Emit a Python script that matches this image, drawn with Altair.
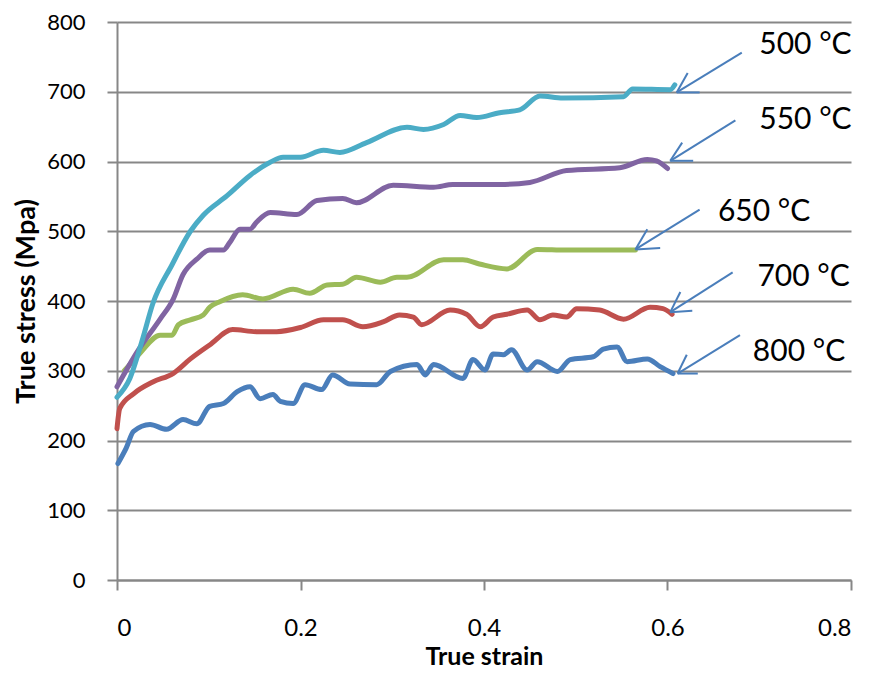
import altair as alt
import pandas as pd

# ---- data ----
s500_strain = [0, 0.014, 0.028, 0.039, 0.06, 0.08, 0.094, 0.12, 0.145, 0.167, 0.181, 0.2, 0.225, 0.243,
               0.272, 0.316, 0.334, 0.356, 0.374, 0.392, 0.417, 0.439, 0.461, 0.486, 0.552, 0.562, 0.603, 0.608]
s500_stress = [262, 289, 346, 396, 452, 500, 523, 551, 580, 599, 606, 606, 616, 613,
               627, 649, 646, 653, 666, 663, 670, 674, 694, 691, 693, 704, 703, 710]

s550_strain = [0, 0.022, 0.047, 0.061, 0.072, 0.087, 0.101, 0.116, 0.123, 0.134, 0.145, 0.152, 0.167, 0.196,
               0.218, 0.246, 0.261, 0.301, 0.345, 0.366, 0.417, 0.45, 0.49, 0.548, 0.578, 0.588, 0.6]
s550_stress = [277, 327, 374, 402, 438, 460, 473, 473, 484, 503, 503, 513, 527, 524,
               544, 547, 541, 566, 563, 567, 567, 570, 587, 591, 603, 601, 590]

s650_strain = [0.008, 0.016, 0.025, 0.047, 0.06, 0.067, 0.08, 0.094, 0.101, 0.112, 0.137, 0.159, 0.192, 0.21,
               0.229, 0.246, 0.261, 0.287, 0.305, 0.316, 0.356, 0.377, 0.395, 0.425, 0.458, 0.49, 0.565]
s650_stress = [300, 312, 325, 351, 351, 366, 373, 380, 391, 399, 409, 403, 417, 411,
               423, 424, 434, 427, 434, 434, 459, 459, 453, 446, 474, 473, 473]

s700_strain = [0, 0.003, 0.018, 0.039, 0.061, 0.08, 0.101, 0.126, 0.152, 0.174, 0.2, 0.225, 0.246, 0.268,
               0.29, 0.308, 0.323, 0.332, 0.363, 0.381, 0.396, 0.41, 0.425, 0.447, 0.461, 0.475, 0.49,
               0.501, 0.526, 0.552, 0.581, 0.595, 0.605]
s700_stress = [217, 246, 267, 284, 296, 317, 337, 359, 356, 356, 362, 373, 373, 363,
               370, 380, 377, 366, 387, 381, 363, 377, 381, 387, 373, 380, 377,
               389, 387, 374, 391, 389, 381]

s800_strain = [0.001, 0.01, 0.018, 0.036, 0.054, 0.072, 0.087, 0.101, 0.116, 0.131, 0.145, 0.156, 0.17,
               0.178, 0.192, 0.205, 0.223, 0.235, 0.254, 0.283, 0.298, 0.327, 0.336, 0.345, 0.377, 0.388,
               0.401, 0.41, 0.421, 0.43, 0.447, 0.458, 0.48, 0.494, 0.519, 0.53, 0.545, 0.556, 0.578,
               0.592, 0.606]
s800_stress = [167, 189, 213, 223, 216, 230, 224, 249, 253, 270, 277, 260, 266,
               256, 253, 280, 273, 294, 281, 280, 299, 309, 294, 309, 289, 316,
               301, 324, 323, 330, 301, 313, 299, 316, 320, 331, 334, 313, 317,
               306, 296]

series_names = ["500 °C", "550 °C", "650 °C", "700 °C", "800 °C"]
series_colors = ["#4BACC6", "#8064A2", "#9BBB59", "#C0504D", "#4A7EBB"]

# label positions (strain, stress)
label_x = [0.700, 0.700, 0.655, 0.698, 0.693]
label_y = [767, 660, 527, 434, 327]

# arrows: tail, tip, and two arrowhead arm ends (strain, stress)
arrow_tail_x = [0.681, 0.674, 0.635, 0.671, 0.679]
arrow_tail_y = [756, 659, 531, 441, 351]
arrow_tip_x = [0.610, 0.603, 0.565, 0.603, 0.611]
arrow_tip_y = [699, 601, 474, 384, 296]
arm1_x = [0.622, 0.616, 0.578, 0.614, 0.621]
arm1_y = [727, 627, 503, 413, 323]
arm2_x = [0.635, 0.628, 0.592, 0.627, 0.633]
arm2_y = [699, 601, 476, 386, 296]

# ---- tables ----
all_x = [s500_strain, s550_strain, s650_strain, s700_strain, s800_strain]
all_y = [s500_stress, s550_stress, s650_stress, s700_stress, s800_stress]
rows = []
# build in reverse so the 500 °C curve is drawn last (on top)
for name, xs, ys in reversed(list(zip(series_names, all_x, all_y))):
    for i, (a, b) in enumerate(zip(xs, ys)):
        rows.append({"series": name, "strain": a, "stress": b, "i": i})
df = pd.DataFrame(rows)

seg = []
for k in range(5):
    seg.append({"x": arrow_tail_x[k], "y": arrow_tail_y[k], "x2": arrow_tip_x[k], "y2": arrow_tip_y[k]})
    seg.append({"x": arrow_tip_x[k], "y": arrow_tip_y[k], "x2": arm1_x[k], "y2": arm1_y[k]})
    seg.append({"x": arrow_tip_x[k], "y": arrow_tip_y[k], "x2": arm2_x[k], "y2": arm2_y[k]})
seg_df = pd.DataFrame(seg)

lab_df = pd.DataFrame({"label": series_names, "x": label_x, "y": label_y})

FONT = "Lato"
xscale = alt.Scale(domain=[0, 0.8], nice=False)
yscale = alt.Scale(domain=[0, 800], nice=False)

lines = alt.Chart(df).mark_line(strokeWidth=5, interpolate="monotone", strokeCap="round",
                                strokeJoin="round").encode(
    x=alt.X("strain:Q", scale=xscale,
            axis=alt.Axis(title="True strain", values=[0, 0.2, 0.4, 0.6, 0.8], format="~g",
                          grid=False, titleY=76, titleBaseline="middle", titleFontSize=25,
                          labelPadding=26, labelFontSize=24)),
    y=alt.Y("stress:Q", scale=yscale,
            axis=alt.Axis(title="True stress (Mpa)", values=list(range(0, 801, 100)), grid=True,
                          titleX=-91, titleY=279, titleBaseline="middle", titleFontSize=27,
                          labelPadding=22, labelFontSize=22)),
    color=alt.Color("series:N", scale=alt.Scale(domain=series_names, range=series_colors), legend=None),
    detail="series:N",
    order="i:Q",
)

arrows = alt.Chart(seg_df).mark_rule(color="#4A7EBB", strokeWidth=2).encode(
    x=alt.X("x:Q", scale=xscale), y=alt.Y("y:Q", scale=yscale), x2="x2:Q", y2="y2:Q"
)

labels = alt.Chart(lab_df).mark_text(align="left", baseline="middle", font=FONT, fontSize=30,
                                     color="#000000").encode(
    x=alt.X("x:Q", scale=xscale), y=alt.Y("y:Q", scale=yscale), text="label:N"
)

chart = alt.layer(lines, arrows, labels).properties(
    width=734, height=558,
    autosize=alt.AutoSizeParams(type="none"),
    padding={"left": 109, "top": 14, "right": 13, "bottom": 89},
    background="#ffffff",
).configure_view(stroke=None).configure_axis(
    domainColor="#878787", domainWidth=2, tickColor="#878787", tickWidth=2, tickSize=10,
    gridColor="#878787", gridWidth=2, labelFont=FONT, labelColor="#000000",
    titleFont=FONT, titleFontWeight="bold", titleColor="#000000",
)

chart.save("out.html", embed_options={"renderer": "svg", "actions": False})
